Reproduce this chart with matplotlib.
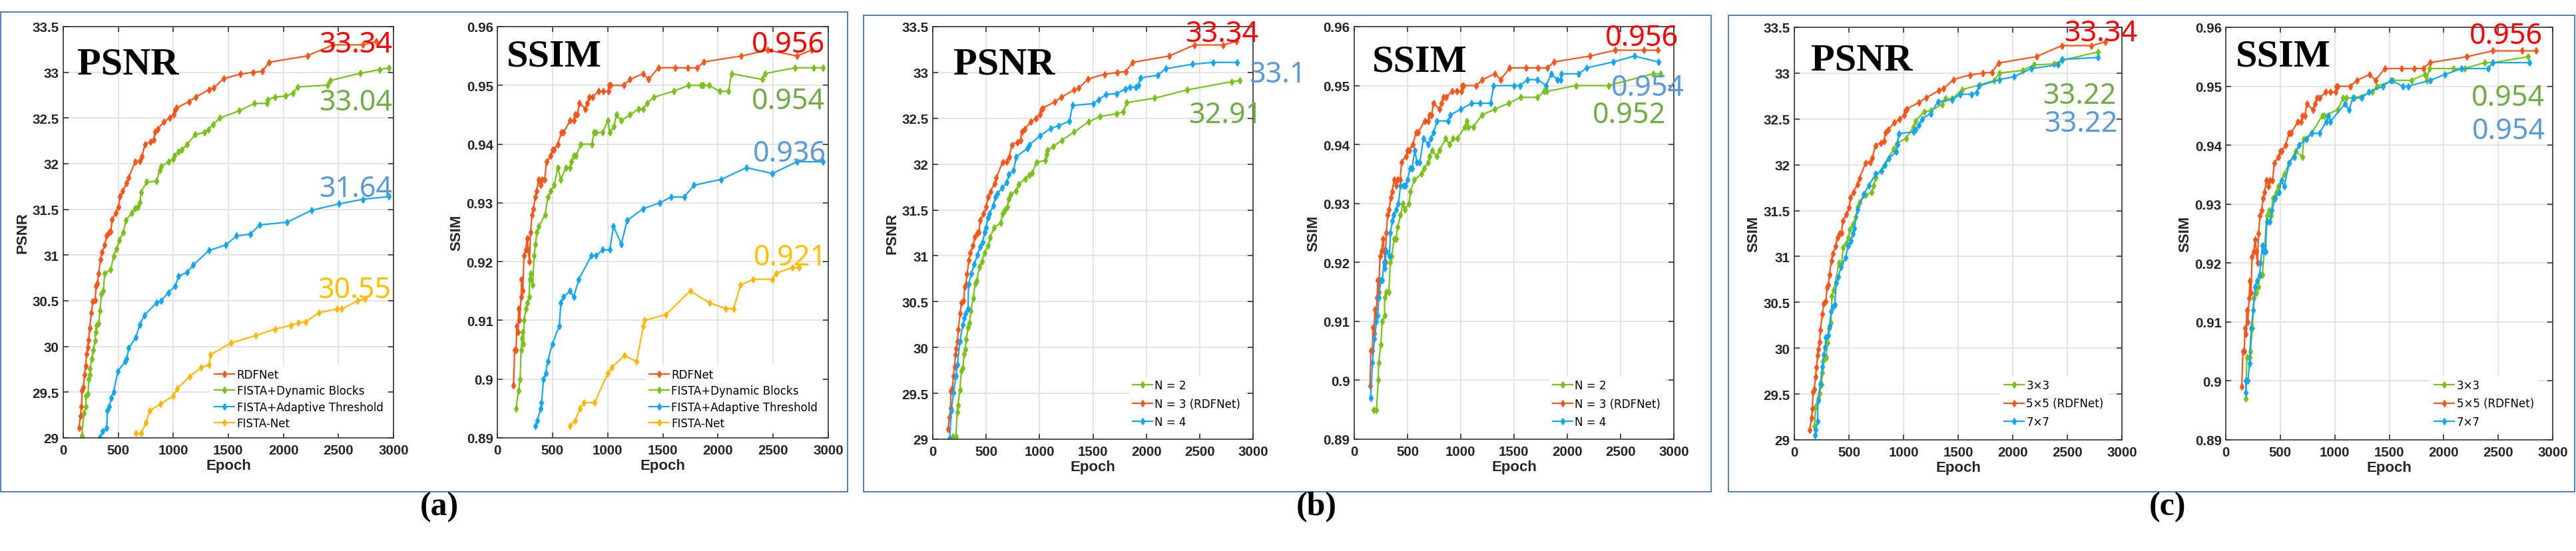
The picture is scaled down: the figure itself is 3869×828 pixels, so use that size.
import matplotlib
matplotlib.use('Agg')
import matplotlib.pyplot as plt
from matplotlib.patches import Rectangle
from matplotlib.ticker import FuncFormatter

# ---------------------------------------------------------------- data
EPOCH_TICKS = [0, 500, 1000, 1500, 2000, 2500, 3000]
PSNR_TICKS = [29, 29.5, 30, 30.5, 31, 31.5, 32, 32.5, 33, 33.5]
SSIM_TICKS = [0.89, 0.90, 0.91, 0.92, 0.93, 0.94, 0.95, 0.96]

# RDFNet (shared by all panels)
rdf_psnr_ep = [143,156,166,171,183,193,203,213,221,231,239,256,269,289,299,311,321,339,351,377,
               394,417,432,444,477,502,515,540,577,595,653,695,716,741,791,821,834,859,916,966,
               1004,1017,1029,1142,1205,1323,1368,1456,1607,1725,1808,1871,2217,2450,2722,2845]
rdf_psnr = [29.11,29.24,29.34,29.52,29.55,29.69,29.79,29.92,29.99,30.07,30.20,30.37,30.49,30.51,30.66,
            30.69,30.80,30.95,31.03,31.11,31.21,31.25,31.26,31.39,31.46,31.53,31.64,31.70,31.79,31.85,
            32.02,32.03,32.08,32.21,32.24,32.26,32.35,32.38,32.46,32.50,32.54,32.59,32.61,32.68,32.73,
            32.81,32.83,32.93,32.98,33.00,33.01,33.11,33.18,33.30,33.30,33.34]

rdf_ssim_ep = [147,157,170,176,186,194,202,215,220,231,241,257,270,280,291,301,314,328,343,354,
               375,393,406,430,445,485,503,516,548,582,600,660,692,705,726,744,799,817,836,862,
               917,962,1006,1014,1027,1145,1203,1321,1373,1459,1611,1727,1813,1873,2211,2450,2717,2848]
rdf_ssim_a = [0.899,0.905,0.905,0.909,0.908,0.912,0.910,0.914,0.917,0.915,0.921,0.922,0.924,0.922,0.920,
              0.925,0.928,0.929,0.931,0.932,0.934,0.933,0.934,0.934,0.937,0.938,0.939,0.939,0.940,0.942,
              0.942,0.944,0.944,0.945,0.945,0.947,0.946,0.947,0.948,0.948,0.949,0.949,0.949,0.950,0.950,
              0.950,0.951,0.952,0.951,0.953,0.953,0.953,0.953,0.954,0.955,0.956,0.955,0.956]
rdf_ssim_bc = [0.899,0.905,0.905,0.909,0.908,0.912,0.910,0.914,0.917,0.915,0.921,0.922,0.924,0.922,0.920,
               0.925,0.928,0.929,0.931,0.932,0.934,0.933,0.934,0.934,0.937,0.938,0.939,0.939,0.940,0.942,
               0.942,0.944,0.944,0.945,0.945,0.947,0.946,0.947,0.948,0.948,0.949,0.949,0.949,0.950,0.950,
               0.950,0.951,0.952,0.951,0.953,0.953,0.953,0.953,0.954,0.955,0.956,0.956,0.956]

# (a) ablation
db_psnr_ep = [168,188,206,206,226,231,239,244,261,271,289,294,301,321,334,346,364,377,432,457,
              485,507,545,570,620,653,678,698,708,758,849,874,891,954,999,1009,1049,1075,1125,1200,
              1280,1318,1361,1424,1599,1737,1850,1858,1921,2021,2089,2127,2403,2423,2699,2875,2958]
db_psnr = [29.02,29.27,29.34,29.46,29.48,29.64,29.69,29.76,29.87,29.96,30.06,30.16,30.23,30.25,30.39,
           30.57,30.61,30.80,30.84,30.99,31.07,31.16,31.25,31.38,31.46,31.51,31.53,31.58,31.69,31.80,
           31.81,31.93,31.97,32.02,32.05,32.09,32.13,32.15,32.21,32.32,32.34,32.37,32.43,32.50,32.58,
           32.66,32.66,32.70,32.73,32.74,32.77,32.84,32.86,32.91,32.99,33.03,33.05]
at_psnr_ep = [334,359,394,402,419,434,457,497,565,577,595,660,695,736,849,891,954,1017,1049,1125,
              1180,1323,1476,1574,1700,1783,2034,2255,2503,2719,2955]
at_psnr = [29.01,29.07,29.11,29.30,29.34,29.44,29.50,29.73,29.84,29.87,29.98,30.10,30.24,30.34,30.48,
           30.50,30.59,30.66,30.77,30.81,30.89,31.05,31.11,31.21,31.23,31.33,31.36,31.49,31.56,31.61,31.64]
fn_psnr_ep = [660,708,753,786,884,999,1037,1147,1255,1326,1338,1526,1750,1921,2071,2134,2204,2322,
              2486,2531,2674,2737]
fn_psnr = [29.05,29.05,29.17,29.30,29.37,29.46,29.54,29.67,29.77,29.80,29.91,30.04,30.12,30.19,30.23,
           30.26,30.27,30.37,30.41,30.41,30.50,30.52]

db_ssim_ep = [170,191,207,215,223,231,236,244,259,272,288,293,301,320,333,346,359,377,432,459,
              485,516,548,574,621,655,673,694,713,757,857,878,896,956,1001,1019,1058,1079,1124,1203,
              1281,1321,1360,1420,1598,1734,1847,1866,1918,2015,2096,2122,2403,2424,2699,2869,2953]
db_ssim = [0.895,0.898,0.900,0.905,0.907,0.908,0.906,0.910,0.912,0.913,0.914,0.917,0.918,0.916,0.921,
           0.923,0.925,0.926,0.928,0.931,0.932,0.933,0.936,0.934,0.936,0.936,0.937,0.938,0.938,0.940,
           0.940,0.942,0.942,0.942,0.944,0.942,0.943,0.945,0.944,0.945,0.946,0.946,0.947,0.948,0.949,
           0.950,0.950,0.950,0.950,0.949,0.949,0.952,0.951,0.952,0.953,0.953,0.953]
at_ssim_ep = [343,364,393,401,419,438,456,498,561,576,600,660,692,739,852,896,956,1019,1053,1124,
              1176,1321,1472,1577,1695,1782,2031,2258,2494,2717,2953]
at_ssim = [0.892,0.893,0.895,0.896,0.900,0.901,0.903,0.906,0.909,0.913,0.914,0.915,0.914,0.917,0.921,
           0.921,0.922,0.922,0.926,0.923,0.927,0.929,0.930,0.931,0.931,0.933,0.934,0.936,0.935,0.937,0.937]
fn_ssim_ep = [660,707,747,786,883,1001,1040,1150,1263,1323,1336,1530,1748,1923,2070,2141,2206,2319,
              2494,2528,2672,2735]
fn_ssim = [0.892,0.893,0.895,0.896,0.896,0.901,0.902,0.904,0.903,0.909,0.910,0.911,0.915,0.913,0.912,
           0.912,0.916,0.917,0.917,0.918,0.919,0.919]

# (b) number of stages
n2_psnr_ep = [189,216,230,235,254,268,281,295,303,314,330,343,357,378,397,411,438,459,484,519,
              538,573,635,654,673,700,708,730,781,803,865,905,932,970,1051,1065,1073,1127,1208,1324,
              1457,1568,1722,1784,1816,2078,2384,2803,2876]
n2_psnr = [29.03,29.03,29.30,29.37,29.54,29.75,29.78,29.93,29.98,30.09,30.22,30.27,30.40,30.54,30.70,
           30.73,30.88,30.94,31.03,31.11,31.20,31.31,31.36,31.46,31.50,31.53,31.62,31.67,31.71,31.78,
           31.84,31.88,31.90,32.02,32.04,32.11,32.15,32.19,32.26,32.35,32.46,32.52,32.55,32.57,32.67,
           32.72,32.81,32.90,32.91]
n4_psnr_ep = [159,173,195,216,230,254,281,295,308,330,335,362,389,419,443,470,484,497,519,532,
              568,586,608,649,695,714,757,781,884,903,1005,1105,1181,1281,1308,1505,1551,1622,1722,1803,
              1849,1903,1930,1943,2108,2181,2430,2627,2851]
n4_psnr = [29.01,29.31,29.51,29.69,29.81,30.07,30.25,30.32,30.37,30.42,30.69,30.81,30.91,31.01,31.10,
           31.15,31.26,31.31,31.42,31.46,31.55,31.64,31.68,31.74,31.80,31.89,31.93,32.08,32.17,32.21,
           32.31,32.39,32.42,32.47,32.64,32.66,32.70,32.76,32.77,32.82,32.84,32.84,32.86,32.94,32.97,
           33.04,33.09,33.11,33.11]
n2_ssim_ep = [184,209,225,230,249,263,285,285,298,325,339,352,374,393,407,434,456,474,515,528,
              564,631,656,696,705,732,772,799,859,894,927,968,1038,1057,1070,1119,1198,1320,1450,1564,
              1721,1781,1808,2079,2385,2805,2873]
n2_ssim = [0.895,0.895,0.900,0.903,0.906,0.910,0.911,0.914,0.915,0.915,0.920,0.921,0.924,0.924,0.926,
           0.928,0.930,0.929,0.930,0.932,0.934,0.935,0.936,0.937,0.938,0.939,0.938,0.939,0.941,0.940,
           0.941,0.941,0.943,0.944,0.943,0.943,0.945,0.946,0.947,0.948,0.948,0.949,0.949,0.950,0.950,
           0.952,0.952]
n4_ssim_ep = [154,171,190,209,220,230,249,263,279,290,298,331,339,358,371,393,415,434,461,480,
              501,523,542,569,588,615,650,696,718,745,778,881,900,1003,1103,1179,1279,1309,1499,1558,
              1626,1721,1802,1848,1905,1938,1943,2108,2182,2431,2629,2859]
n4_ssim = [0.897,0.903,0.907,0.910,0.911,0.914,0.917,0.917,0.920,0.919,0.922,0.921,0.925,0.927,0.928,
           0.929,0.930,0.933,0.933,0.933,0.934,0.936,0.936,0.939,0.937,0.937,0.941,0.940,0.941,0.942,
           0.944,0.944,0.945,0.946,0.947,0.947,0.947,0.950,0.950,0.950,0.951,0.951,0.950,0.952,0.951,
           0.951,0.952,0.952,0.953,0.954,0.955,0.954]

# (c) kernel size
k3_psnr_ep = [185,196,217,230,249,257,265,278,291,302,317,336,344,362,407,434,447,474,495,508,
              534,561,582,595,653,706,725,746,910,937,1024,1090,1111,1190,1249,1354,1386,1447,1534,1693,
              1831,1878,2090,2196,2381,2452,2778]
k3_psnr = [29.15,29.36,29.45,29.51,29.60,29.73,29.86,29.89,29.90,30.06,30.21,30.28,30.57,30.63,30.93,
           30.93,31.10,31.14,31.21,31.29,31.35,31.43,31.54,31.59,31.67,31.70,31.77,31.86,32.17,32.23,
           32.29,32.41,32.48,32.58,32.59,32.66,32.72,32.72,32.82,32.87,32.92,33.00,33.03,33.09,33.10,
           33.14,33.23]
k7_psnr_ep = [191,196,212,217,238,257,270,283,288,310,323,336,354,370,384,402,429,468,495,521,
              534,548,582,635,680,746,799,831,865,931,944,958,1090,1111,1143,1169,1249,1315,1447,1519,
              1624,1672,1690,1878,2011,2169,2413,2452,2783]
k7_psnr = [29.05,29.11,29.20,29.43,29.61,29.80,29.93,30.01,30.12,30.14,30.24,30.40,30.45,30.47,30.71,
           30.78,30.89,30.99,31.12,31.17,31.25,31.31,31.51,31.68,31.77,31.90,31.93,32.00,32.07,32.14,
           32.22,32.34,32.36,32.38,32.43,32.50,32.56,32.69,32.71,32.77,32.77,32.79,32.86,32.93,32.96,
           33.05,33.09,33.15,33.17]
k3_ssim_ep = [185,193,217,225,246,257,283,297,318,336,357,376,397,416,432,463,482,535,582,643,
              702,715,786,887,905,1025,1078,1104,1178,1342,1385,1536,1702,1827,1845,1867,2092,2192,2375,2449,
              2772]
k3_ssim = [0.897,0.904,0.904,0.905,0.909,0.914,0.915,0.916,0.918,0.918,0.923,0.928,0.929,0.928,0.931,
           0.932,0.933,0.935,0.937,0.939,0.938,0.941,0.942,0.945,0.945,0.946,0.948,0.948,0.948,0.949,
           0.950,0.951,0.951,0.952,0.951,0.953,0.953,0.953,0.954,0.954,0.955]
k7_ssim_ep = [185,185,204,217,233,252,270,286,310,320,336,350,365,376,405,424,455,490,511,537,
              582,627,670,741,786,860,921,940,961,1093,1133,1165,1244,1311,1443,1517,1623,1676,1875,2012,
              2163,2409,2449,2788]
k7_ssim = [0.898,0.900,0.900,0.903,0.909,0.912,0.916,0.917,0.918,0.920,0.923,0.922,0.922,0.927,0.927,
           0.929,0.931,0.932,0.934,0.933,0.937,0.938,0.940,0.941,0.942,0.942,0.944,0.945,0.944,0.947,
           0.946,0.948,0.948,0.949,0.950,0.951,0.950,0.950,0.951,0.952,0.953,0.953,0.954,0.954]

LABELS_A = ['RDFNet', 'FISTA+Dynamic Blocks', 'FISTA+Adaptive Threshold', 'FISTA-Net']
LABELS_B = ['N = 2', 'N = 3 (RDFNet)', 'N = 4']
LABELS_C = ['3\u00d73', '5\u00d75 (RDFNet)', '7\u00d77']

# ---------------------------------------------------------------- style
W, H, DPI = 3869, 829, 100
C_RED, C_GREEN, C_BLUE, C_YEL = '#FA561C', '#79C11B', '#13A6F3', '#FFB80A'
T_RED, T_GREEN, T_BLUE, T_YEL = '#FF0000', '#70AD47', '#5B9BD5', '#FFC000'
DARK = '#262626'

fig = plt.figure(figsize=(W / DPI, H / DPI), dpi=DPI)
fig.patch.set_facecolor('white')


def px_axes(l, t, r, b):
    return fig.add_axes([l / W, 1 - b / H, (r - l) / W, (b - t) / H])


def fig_text(x, y, s, **kw):
    fig.text(x / W, 1 - y / H, s, **kw)


def style(ax, ylim, yticks, ylabel):
    ax.set_xlim(0, 3000)
    ax.set_ylim(*ylim)
    ax.set_xticks(EPOCH_TICKS)
    ax.set_yticks(yticks)
    fmt = FuncFormatter(lambda v, p: f'{v:g}')
    ax.xaxis.set_major_formatter(fmt)
    ax.yaxis.set_major_formatter(fmt)
    ax.grid(True, color='#dddddd', lw=1.1)
    ax.set_axisbelow(True)
    ax.tick_params(direction='in', top=True, right=True, length=6, width=1.1,
                   color=DARK, labelsize=14.8, labelcolor=DARK)
    ax.tick_params(axis='x', pad=6.5)
    ax.tick_params(axis='y', pad=4.5)
    for lab in ax.get_xticklabels() + ax.get_yticklabels():
        lab.set_fontfamily('Liberation Sans')
        lab.set_fontweight('bold')
    for s in ax.spines.values():
        s.set_color('#333333')
        s.set_linewidth(1.2)
    ax.set_xlabel('Epoch', fontsize=16, fontweight='bold', family='Liberation Sans',
                  labelpad=2, color=DARK)
    ax.set_ylabel(ylabel, fontsize=16, fontweight='bold', family='Liberation Sans',
                  labelpad=3, color=DARK)


def curve(ax, x, y, color, label):
    ax.plot(x, y, color=color, lw=1.6, marker='d', ms=5, mec=color, mfc=color, label=label)


def legend(ax, fx, fy, ls):
    ax.legend(loc='lower left', bbox_to_anchor=(fx, fy), borderaxespad=0,
              prop={'family': 'DejaVu Sans', 'size': 12}, handlelength=1.8,
              handletextpad=0.2, borderpad=0.3, labelspacing=ls, frameon=True,
              fancybox=False, framealpha=1, edgecolor='white', facecolor='white')


def title(x, y, s):
    fig_text(x, y, s, ha='left', va='baseline', family='Liberation Serif',
             fontweight='bold', fontsize=42, color='black')


def value(x, y, s, color):
    fig_text(x, y, s, ha='right', va='baseline', family='Noto Sans',
             fontsize=31, color=color)


PS_LIM = (29, 33.5)
SS_LIM = (0.89, 0.96)
LS_A, LS_BC = 0.38, 0.57

# ---------------------------------------------------------------- (a)
ax = px_axes(95, 41, 591, 659)
curve(ax, rdf_psnr_ep, rdf_psnr, C_RED, LABELS_A[0])
curve(ax, db_psnr_ep, db_psnr, C_GREEN, LABELS_A[1])
curve(ax, at_psnr_ep, at_psnr, C_BLUE, LABELS_A[2])
curve(ax, fn_psnr_ep, fn_psnr, C_YEL, LABELS_A[3])
style(ax, PS_LIM, PSNR_TICKS, 'PSNR')
legend(ax, 0.448, 0.013, LS_A)
title(116, 112, 'PSNR')
value(589, 79, '33.34', T_RED)
value(589, 166, '33.04', T_GREEN)
value(589, 296, '31.64', T_BLUE)
value(587, 448, '30.55', T_YEL)

ax = px_axes(747, 41, 1244, 659)
curve(ax, rdf_ssim_ep, rdf_ssim_a, C_RED, LABELS_A[0])
curve(ax, db_ssim_ep, db_ssim, C_GREEN, LABELS_A[1])
curve(ax, at_ssim_ep, at_ssim, C_BLUE, LABELS_A[2])
curve(ax, fn_ssim_ep, fn_ssim, C_YEL, LABELS_A[3])
style(ax, SS_LIM, SSIM_TICKS, 'SSIM')
legend(ax, 0.449, 0.013, LS_A)
title(761, 100, 'SSIM')
value(1239, 79, '0.956', T_RED)
value(1239, 164, '0.954', T_GREEN)
value(1241, 243, '0.936', T_BLUE)
value(1242, 399, '0.921', T_YEL)

# ---------------------------------------------------------------- (b)
ax = px_axes(1401, 41, 1882, 661)
curve(ax, n2_psnr_ep, n2_psnr, C_GREEN, LABELS_B[0])
curve(ax, rdf_psnr_ep, rdf_psnr, C_RED, LABELS_B[1])
curve(ax, n4_psnr_ep, n4_psnr, C_BLUE, LABELS_B[2])
style(ax, PS_LIM, PSNR_TICKS, 'PSNR')
legend(ax, 0.613, 0.019, LS_BC)
title(1432, 111, 'PSNR')
value(1890, 63, '33.34', T_RED)
value(1962, 124, '33.1', T_BLUE)
value(1895, 185, '32.91', T_GREEN)

ax = px_axes(2034, 41, 2514, 661)
curve(ax, n2_ssim_ep, n2_ssim, C_GREEN, LABELS_B[0])
curve(ax, rdf_ssim_ep, rdf_ssim_bc, C_RED, LABELS_B[1])
curve(ax, n4_ssim_ep, n4_ssim, C_BLUE, LABELS_B[2])
style(ax, SS_LIM, SSIM_TICKS, 'SSIM')
legend(ax, 0.61, 0.019, LS_BC)
title(2061, 108, 'SSIM')
value(2521, 69, '0.956', T_RED)
value(2530, 144, '0.954', T_BLUE)
value(2502, 185, '0.952', T_GREEN)

# ---------------------------------------------------------------- (c)
ax = px_axes(2695, 42, 3187, 662)
curve(ax, k3_psnr_ep, k3_psnr, C_GREEN, LABELS_C[0])
curve(ax, rdf_psnr_ep, rdf_psnr, C_RED, LABELS_C[1])
curve(ax, k7_psnr_ep, k7_psnr, C_BLUE, LABELS_C[2])
style(ax, PS_LIM, PSNR_TICKS, 'SSIM')
legend(ax, 0.63, 0.021, LS_BC)
title(2720, 106, 'PSNR')
value(3210, 62, '33.34', T_RED)
value(3178, 156, '33.22', T_GREEN)
value(3180, 198, '33.22', T_BLUE)

ax = px_axes(3343, 42, 3834, 662)
curve(ax, k3_ssim_ep, k3_ssim, C_GREEN, LABELS_C[0])
curve(ax, rdf_ssim_ep, rdf_ssim_bc, C_RED, LABELS_C[1])
curve(ax, k7_ssim_ep, k7_ssim, C_BLUE, LABELS_C[2])
style(ax, SS_LIM, SSIM_TICKS, 'SSIM')
legend(ax, 0.628, 0.021, LS_BC)
title(3358, 100, 'SSIM')
value(3819, 66, '0.956', T_RED)
value(3822, 159, '0.954', T_GREEN)
value(3823, 209, '0.954', T_BLUE)

# ---------------------------------------------------------------- frames & panel letters
for (x0, y0, x1, y1) in [(1, 18.5, 1273, 740), (1297, 24, 2569.5, 740), (2596, 24, 3867, 740)]:
    fig.add_artist(Rectangle((x0 / W, 1 - y1 / H), (x1 - x0) / W, (y1 - y0) / H,
                             transform=fig.transFigure, fill=False, ec='#4472C4', lw=1.3))

for (x, s) in [(660, '(a)'), (1977, '(b)'), (3256, '(c)')]:
    fig_text(x, 762, s, ha='center', va='center', family='Liberation Serif',
             fontweight='bold', fontsize=36, color='black')

fig.savefig('out.png', dpi=DPI, facecolor='white')
